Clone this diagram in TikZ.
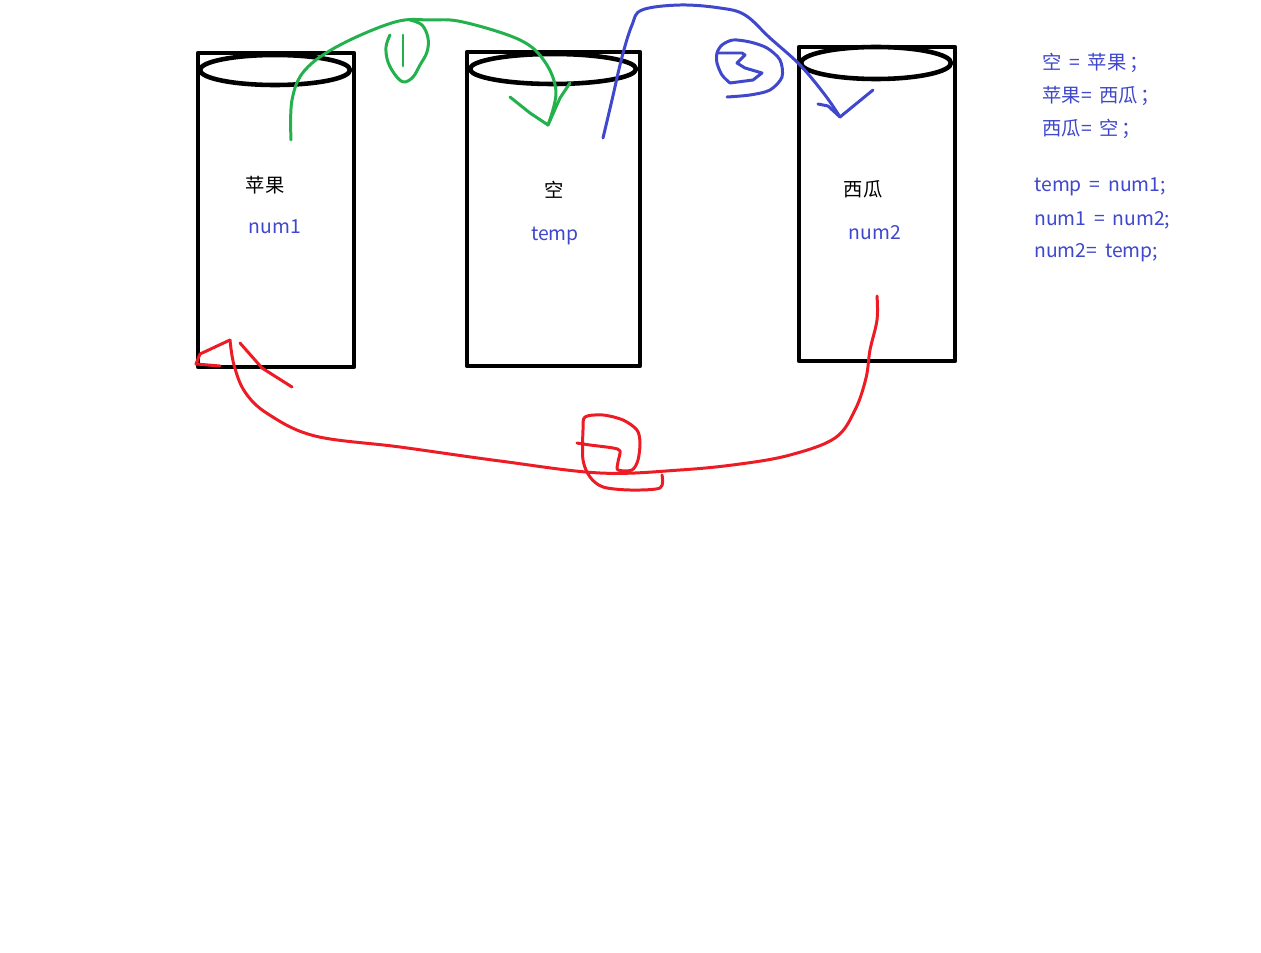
\documentclass[tikz,border=0pt]{standalone}
\usepackage{fontspec}
\setmainfont{Noto Sans CJK SC}[WordSpace=1.8]
\definecolor{pengreen}{HTML}{22B14C}
\definecolor{penblue}{HTML}{3F48CC}
\definecolor{penred}{HTML}{ED1C24}
\newcommand{\semi}{\hspace{1.5pt}；}
\begin{document}
\begin{tikzpicture}[x=0.02cm, y=-0.02cm, line cap=round, line join=round,
		jar/.style={line width=2.6pt},
		greenpen/.style={pengreen, line width=1.7pt},
		bluepen/.style={penblue, line width=1.7pt},
		redpen/.style={penred, line width=1.7pt},
		label/.style={font=\fontsize{11}{13}\selectfont, inner sep=0pt},
		code/.style={label, text=penblue, anchor=west}]
		
		\useasboundingbox[fill=white] (0,0) rectangle (1261,953);
		
		% the three jars
		\draw[jar] (198,53) rectangle (354,367);
		\draw[jar] (275,70) ellipse [x radius=75, y radius=15];
		\draw[jar] (467,52) rectangle (640,366);
		\draw[jar] (553,69) ellipse [x radius=83, y radius=15];
		\draw[jar] (799,47) rectangle (955,361);
		\draw[jar] (876,63) ellipse [x radius=75, y radius=16];
		
		\node[label] (apple) at (265,185) {苹果};
		\node[label, text=penblue] (num1) at (275,227) {num1};
		\node[label] (empty) at (554,190) {空};
		\node[label, text=penblue] (temp) at (555,236) {temp};
		\node[label] (melon) at (863,189) {西瓜};
		\node[label, text=penblue] (num2) at (875,233) {num2};
		
		% step 1: green
		\coordinate (gs) at (291,140);
		\coordinate (gt) at (548,125);
		\draw[greenpen] plot[smooth, tension=0.6] coordinates {(gs) (292,100) (305,70) (340,45) (395,22) (430,20) (463,22) (520,40) (545,62) (556,92) (gt)};
		\draw[greenpen] (510,97) -- (530,113) -- (gt) -- (560,98) -- (570,83);
		\draw[greenpen] plot[smooth, tension=0.6] coordinates {(390,35) (386,47) (388,62) (396,76) (404,82) (413,77) (420,65) (427,52) (428,38) (422,25) (410,20)};
		\draw[greenpen] (403,35) -- (403,66);
		
		% step 2: blue
		\coordinate (bs) at (603,138);
		\coordinate (bt) at (840,117);
		\draw[bluepen] plot[smooth, tension=0.6] coordinates {(bs) (612,100) (622,57) (632,25) (642,10) (680,5) (720,8) (745,15) (770,38) (800,65) (825,95) (bt)};
		\draw[bluepen] (818,104) -- (828,106) -- (bt) -- (873,90);
		\draw[bluepen] plot[smooth, tension=0.5] coordinates {(727,97) (750,95) (770,90) (782,77) (780,60) (767,48) (750,42) (733,40) (722,45) (717,53) (717,63) (722,75) (730,83)};
		\draw[bluepen] (730,83) -- (753,80) -- (762,73) -- (745,68) -- (737,63) -- (745,55) -- (742,53) -- (718,53);
		
		% step 3: red
		\coordinate (rs) at (877,296);
		\coordinate (rt) at (230,340);
		\draw[redpen] plot[smooth, tension=0.6] coordinates {(rs) (877,320) (870,350) (866,378) (855,410) (835,438) (790,455) (740,464) (680,470) (600,473) (500,461) (400,447) (315,436) (268,414) (245,392) (234,365) (rt)};
		\draw[redpen] (rt) -- (200,354) -- (196,364) -- (220,366);
		\draw[redpen] (240,343) -- (262,368) -- (292,387);
		\draw[redpen] plot[smooth, tension=0.5] coordinates {(577,443) (590,445) (613,448) (620,451) (618,462) (618,470) (632,470) (638,460) (640,443) (637,430) (623,420) (603,415) (585,417) (583,430) (583,460) (590,477) (603,487) (630,490) (660,488) (662,475)};
		
		% the swap, written out
		\node[code] (line1) at (1042,63) {空 = 苹果\semi};
		\node[code] (line2) at (1042,96) {苹果= 西瓜\semi};
		\node[code] (line3) at (1042,129) {西瓜= 空\semi};
		\node[code] (line4) at (1034,187) {temp = num1;};
		\node[code] (line5) at (1034,220) {num1 = num2;};
		\node[code] (line6) at (1034,253) {num2= temp;};
	\end{tikzpicture}
\end{document}
